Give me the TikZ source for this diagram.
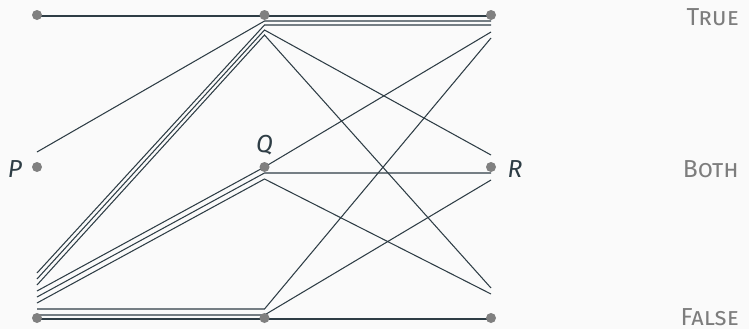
\documentclass[tikz,border=0pt]{standalone}
\usepackage{fontspec}
\setmainfont{Fira Sans}
\definecolor{slate}{RGB}{46,61,69}
\definecolor{dotgray}{RGB}{128,128,128}
\definecolor{labgray}{RGB}{125,125,125}
\definecolor{paper}{RGB}{250,250,250}
\begin{document}
\begin{tikzpicture}[x=1cm,y=1cm,font=\fontsize{14}{16}\selectfont,
  dot/.style={circle,fill=dotgray,inner sep=0pt,minimum size=0.2cm},
  wire/.style={draw=slate,line width=0.6pt},
  var/.style={text=slate,anchor=base},
  val/.style={text=labgray,anchor=base east}]
  \fill[paper] (0,0) rectangle (14.98,-6.58);
  \useasboundingbox (0,0) rectangle (14.98,-6.58);
  % grid of truth values: columns P, Q, R; rows true, both, false
  \coordinate (pt) at (0.74,-0.30);
  \coordinate (pb) at (0.74,-3.34);
  \coordinate (pf) at (0.74,-6.36);
  \coordinate (qt) at (5.29,-0.30);
  \coordinate (qb) at (5.29,-3.34);
  \coordinate (qf) at (5.29,-6.36);
  \coordinate (rt) at (9.82,-0.30);
  \coordinate (rb) at (9.82,-3.34);
  \coordinate (rf) at (9.82,-6.36);
  % one wire per admissible triple
  \draw[wire] ([yshift=-0.02cm]pt) -- ([yshift=-0.02cm]qt) -- ([yshift=-0.02cm]rt);
  \draw[wire] ([yshift=0.30cm]pb) -- ([yshift=-0.12cm]qt) -- ([yshift=-0.12cm]rt);
  \draw[wire] ([yshift=0.90cm]pf) -- ([yshift=-0.20cm]qt) -- ([yshift=-0.20cm]rt);
  \draw[wire] ([yshift=0.78cm]pf) -- ([yshift=-0.30cm]qt) -- ([yshift=0.24cm]rb);
  \draw[wire] ([yshift=0.66cm]pf) -- ([yshift=-0.40cm]qt) -- ([yshift=0.60cm]rf);
  \draw[wire] ([yshift=0.54cm]pf) -- (qb) -- ([yshift=-0.34cm]rt);
  \draw[wire] ([yshift=0.42cm]pf) -- ([yshift=-0.12cm]qb) -- ([yshift=-0.12cm]rb);
  \draw[wire] ([yshift=0.30cm]pf) -- ([yshift=-0.24cm]qb) -- ([yshift=0.48cm]rf);
  \draw[wire] ([yshift=0.18cm]pf) -- ([yshift=0.18cm]qf) -- ([yshift=-0.46cm]rt);
  \draw[wire] ([yshift=0.06cm]pf) -- ([yshift=0.06cm]qf) -- ([yshift=-0.26cm]rb);
  \draw[wire] ([yshift=-0.02cm]pf) -- ([yshift=-0.02cm]qf) -- ([yshift=-0.02cm]rf);
  \foreach \n in {pt,pb,pf,qt,qb,qf,rt,rb,rf}
    \node[dot] (\n-dot) at (\n) {};
  % labels
  \node[var] (plab) at (0.30,-3.54) {\textit{P}};
  \node[var] (qlab) at (5.29,-3.04) {\textit{Q}};
  \node[var] (rlab) at (10.30,-3.54) {\textit{R}};
  \node[val] (tlab) at (14.90,-0.52) {\textsc{True}};
  \node[val] (blab) at (14.90,-3.54) {\textsc{Both}};
  \node[val] (flab) at (14.90,-6.50) {\textsc{False}};
\end{tikzpicture}
\end{document}
